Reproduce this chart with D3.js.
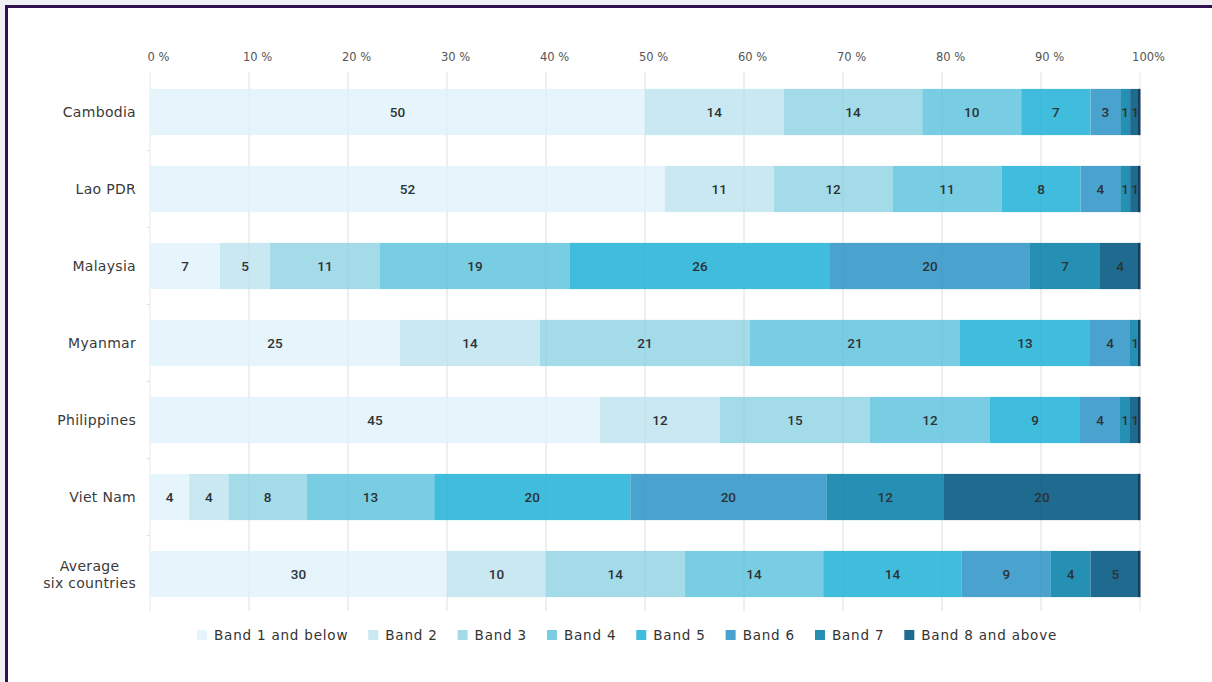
<!DOCTYPE html>
<html>
<head>
<meta charset="utf-8">
<script src="https://cdn.jsdelivr.net/npm/d3@7"></script>
<style>
  html, body { margin: 0; padding: 0; background: #eef0f4; }
  svg { display: block; }
</style>
</head>
<body>
<svg id="chart" width="1212" height="682"></svg>
<script>
// Share of workers by pay band, per country (percent, rounded)
const countries = ["Cambodia", "Lao PDR", "Malaysia", "Myanmar", "Philippines", "Viet Nam", "Average\nsix countries"];
const bands = ["Band 1 and below", "Band 2", "Band 3", "Band 4", "Band 5", "Band 6", "Band 7", "Band 8 and above"];
const band1 = [50, 52, 7, 25, 45, 4, 30];
const band2 = [14, 11, 5, 14, 12, 4, 10];
const band3 = [14, 12, 11, 21, 15, 8, 14];
const band4 = [10, 11, 19, 21, 12, 13, 14];
const band5 = [7, 8, 26, 13, 9, 20, 14];
const band6 = [3, 4, 20, 4, 4, 20, 9];
const band7 = [1, 1, 7, 1, 1, 12, 4];
const band8 = [1, 1, 4, 0, 1, 20, 5];
const tickValues = [0, 0.1, 0.2, 0.3, 0.4, 0.5, 0.6, 0.7, 0.8, 0.9, 1];
const tickLabels = ["0 %", "10 %", "20 %", "30 %", "40 %", "50 %", "60 %", "70 %", "80 %", "90 %", "100%"];
const bandColors = ["#e5f5fb", "#c9e8f1", "#a4dbe9", "#79cde3", "#40bddc", "#4aa3cf", "#2590b4", "#1f6a8f"];

const seriesValues = [band1, band2, band3, band4, band5, band6, band7, band8];
const rows = countries.map((c, i) => {
  const r = { country: c };
  bands.forEach((b, j) => { r[b] = seriesValues[j][i]; });
  return r;
});

const svg = d3.select("#chart");

// page frame
svg.append("rect").attr("x", 5).attr("y", 5).attr("width", 1220).attr("height", 700)
  .attr("fill", "#ffffff");
svg.append("path").attr("d", "M6.5,690 V6.5 H1220")
  .attr("fill", "none").attr("stroke", "#2e1050").attr("stroke-width", 3);

const x = d3.scaleLinear().domain([0, 1]).range([150, 1140]);
const y = d3.scaleBand().domain(countries).range([73.5, 612.5]).paddingInner(0.4).paddingOuter(0.2);

const stack = d3.stack().keys(bands).offset(d3.stackOffsetExpand);
const layers = stack(rows);

const FONT = "'DejaVu Sans', 'Liberation Sans', sans-serif";
const NUMFONT = "Roboto, 'Liberation Sans', sans-serif";

// vertical gridlines
svg.append("g").selectAll("line").data(tickValues).join("line")
  .attr("x1", d => x(d)).attr("x2", d => x(d))
  .attr("y1", 72).attr("y2", 611)
  .attr("stroke", "#e6e6e6").attr("stroke-width", 1);

// small row separators on the category axis
svg.append("g").selectAll("line").data(countries.slice(1)).join("line")
  .attr("x1", x(0) - 3).attr("x2", x(0))
  .attr("y1", d => y(d) - y.step() * y.paddingInner() / 2)
  .attr("y2", d => y(d) - y.step() * y.paddingInner() / 2)
  .attr("stroke", "#dddddd");

// top axis
const xAxis = d3.axisTop(x).tickValues(tickValues).tickSize(0).tickPadding(0)
  .tickFormat((d, i) => tickLabels[i]);
const ax = svg.append("g").attr("transform", "translate(8,61)").call(xAxis);
ax.select(".domain").remove();
ax.selectAll("text").attr("font-family", FONT).attr("font-size", 11.5).attr("fill", "#555")
  .attr("dy", 0);

// stacked segments
const layerG = svg.append("g").selectAll("g").data(layers).join("g")
  .attr("fill", (d, i) => bandColors[i]);
layerG.selectAll("rect").data(d => d.map(s => ({ s, key: d.key }))).join("rect")
  .attr("x", d => x(d.s[0]))
  .attr("y", d => y(d.s.data.country))
  .attr("width", d => Math.max(0, x(d.s[1]) - x(d.s[0])))
  .attr("height", y.bandwidth());

// faint gridlines showing through the bars
svg.append("g").selectAll("line").data(tickValues.slice(1, -1)).join("line")
  .attr("x1", d => x(d)).attr("x2", d => x(d))
  .attr("y1", 72).attr("y2", 611)
  .attr("stroke", "#000").attr("stroke-opacity", 0.035);

// dark cap at the end of every bar
svg.append("g").selectAll("rect").data(countries).join("rect")
  .attr("x", x(1) - 2).attr("y", d => y(d))
  .attr("width", 2.5).attr("height", y.bandwidth())
  .attr("fill", "#153f5a");

// value labels
layerG.selectAll("text").data(d => d.map(s => ({ s, key: d.key }))).join("text")
  .filter(d => d.s.data[d.key] > 0)
  .attr("x", d => (x(d.s[0]) + x(d.s[1])) / 2)
  .attr("y", d => y(d.s.data.country) + y.bandwidth() / 2)
  .attr("dy", "0.36em")
  .attr("text-anchor", "middle")
  .attr("font-family", NUMFONT).attr("font-size", 13.5).attr("font-weight", 500)
  .attr("fill", "#2c3235")
  .text(d => d.s.data[d.key]);

// category labels
const labelG = svg.append("g");
countries.forEach(c => {
  const lines = c.split("\n");
  const cy = y(c) + y.bandwidth() / 2;
  const t = labelG.append("text")
    .attr("font-family", FONT).attr("font-size", 14).attr("letter-spacing", 0.3).attr("fill", "#3a3a3a");
  const lh = 17;
  lines.forEach((ln, k) => {
    t.append("tspan").attr("x", 136)
      .attr("y", cy + (k - (lines.length - 1) / 2) * lh)
      .attr("dy", "0.36em").text(ln);
  });
  if (lines.length > 1) {
    const w = Math.max(...t.selectAll("tspan").nodes().map(n => n.getComputedTextLength()));
    t.attr("text-anchor", "middle").selectAll("tspan").attr("x", 136 - w / 2);
  } else {
    t.attr("text-anchor", "end");
  }
});

// legend
const legend = svg.append("g").attr("transform", "translate(197,635)");
let lx = 0;
bands.forEach((b, i) => {
  const item = legend.append("g").attr("transform", `translate(${lx},0)`);
  item.append("rect").attr("x", 0).attr("y", -5).attr("width", 10).attr("height", 10)
    .attr("fill", bandColors[i]);
  const t = item.append("text").attr("x", 17).attr("y", 0).attr("dy", "0.36em")
    .attr("font-family", FONT).attr("font-size", 13.5).attr("letter-spacing", 0.8)
    .attr("fill", "#333").text(b);
  lx += 17 + t.node().getComputedTextLength() + 20;
});
</script>
</body>
</html>
